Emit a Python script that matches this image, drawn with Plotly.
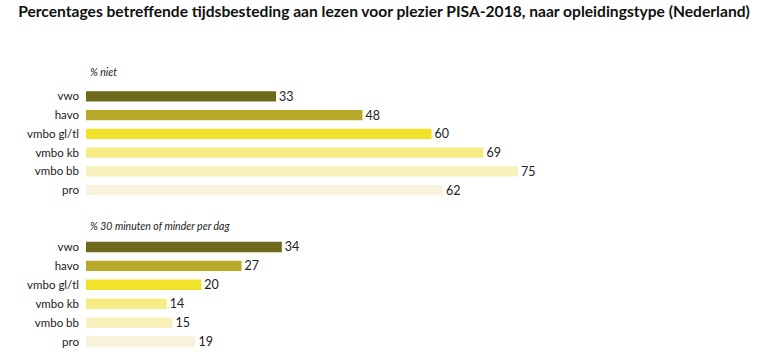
import plotly.graph_objects as go
from plotly.subplots import make_subplots

categories = ["vwo", "havo", "vmbo gl/tl", "vmbo kb", "vmbo bb", "pro"]
niet = [33, 48, 60, 69, 75, 62]
minder = [34, 27, 20, 14, 15, 19]
colors = ["#6f691b", "#b7aa2a", "#f1e32c", "#f5ec86", "#f8f1bc", "#f9f3dd"]

title = "Percentages betreffende tijdsbesteding aan lezen voor plezier PISA-2018, naar opleidingstype (Nederland)"
sub1 = "% niet"
sub2 = "% 30 minuten of minder per dag"

FONT = "Lato"

fig = make_subplots(rows=2, cols=1)
for r, vals in ((1, niet), (2, minder)):
    fig.add_trace(go.Bar(
        y=categories, x=vals, orientation="h",
        marker=dict(color=colors, line=dict(width=0)),
        width=0.55,
        text=[str(v) for v in vals], textposition="outside", constraintext="none",
        textfont=dict(size=12.5, color="#222222", family=FONT),
        cliponaxis=False, showlegend=False, hoverinfo="skip",
    ), row=r, col=1)

yax = dict(autorange="reversed", showgrid=False, zeroline=False, automargin=False,
           showline=False, ticks="", tickfont=dict(size=11.5, color="#222222"), ticklabelstandoff=6)
fig.update_layout(
    width=768, height=360,
    margin=dict(l=86, r=768 - 662, t=86.6, b=360 - 351.4),
    paper_bgcolor="white", plot_bgcolor="white",
    font=dict(family=FONT, color="#222222"),
    title=dict(text="<b>" + title + "</b>", x=384 / 768, xanchor="center",
               y=1 - 12 / 360, yanchor="middle",
               font=dict(size=15.6, color="#111111", family=FONT)),
    xaxis=dict(range=[0, 100], visible=False, automargin=False),
    xaxis2=dict(range=[0, 100], visible=False, automargin=False),
    yaxis=dict(domain=[0.574, 1.0], **yax),
    yaxis2=dict(domain=[0.0, 0.4298], **yax),
)
fig.add_annotation(text="<i>" + sub1 + "</i>", xref="paper", yref="paper", x=(88 - 86) / 576,
                   y=(351.4 - 72) / 264.8, xanchor="left", yanchor="middle", showarrow=False,
                   font=dict(size=10.5, color="#222222"))
fig.add_annotation(text="<i>" + sub2 + "</i>", xref="paper", yref="paper", x=(88 - 86) / 576,
                   y=(351.4 - 226) / 264.8, xanchor="left", yanchor="middle", showarrow=False,
                   font=dict(size=10.5, color="#222222"))

fig.write_html("out.html", config={"displayModeBar": False},
               post_script="document.body.style.margin='0';document.body.style.overflow='hidden';")
